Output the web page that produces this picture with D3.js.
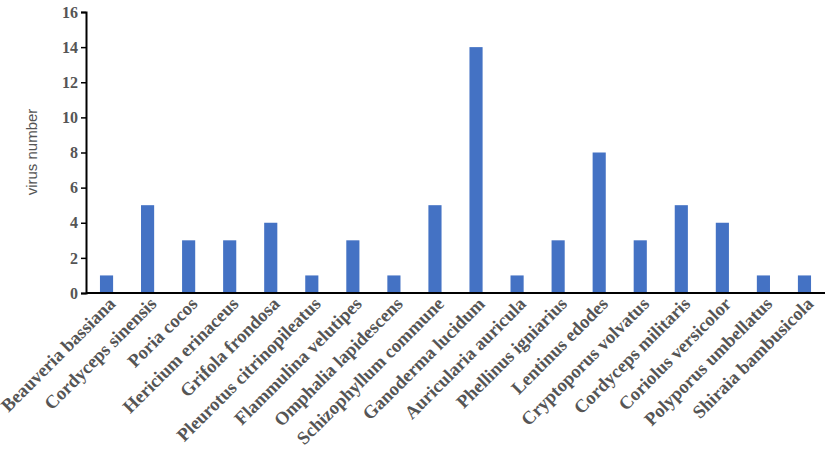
<!DOCTYPE html><html><head><meta charset="utf-8"><script src="https://cdn.jsdelivr.net/npm/d3@7"></script>
<style>body{margin:0;background:#fff}</style></head><body><svg id="c" width="832" height="465"></svg><script>
const categories=["Beauveria bassiana","Cordyceps sinensis","Poria cocos","Hericium erinaceus","Grifola frondosa","Pleurotus citrinopileatus","Flammulina velutipes","Omphalia lapidescens","Schizophyllum commune","Ganoderma lucidum","Auricularia auricula","Phellinus igniarius","Lentinus edodes","Cryptoporus volvatus","Cordyceps militaris","Coriolus versicolor","Polyporus umbellatus","Shiraia bambusicola"];
const values=[1,5,3,3,4,1,3,1,5,14,1,3,8,3,5,4,1,1];
const yTicks=[0,2,4,6,8,10,12,14,16];
const svg=d3.select("#c");
const x=d3.scaleBand().domain(categories).range([86,825]).paddingInner(0.68).paddingOuter(0.34);
const y=d3.scaleLinear().domain([0,16]).range([293,12]);
svg.selectAll("rect").data(values).join("rect").attr("x",(d,i)=>x(categories[i])).attr("width",x.bandwidth())
 .attr("y",d=>y(d)).attr("height",d=>y(0)-y(d)).attr("fill","#4472C4");
const ya=svg.append("g").attr("transform","translate(86,0)").call(d3.axisLeft(y).tickValues(yTicks).tickSize(5));
ya.select(".domain").attr("stroke","#000").attr("stroke-width",2);
ya.selectAll("line").attr("stroke","#000").attr("stroke-width",1.5);
ya.selectAll("text").attr("font-family","Liberation Serif").attr("font-weight","bold").attr("font-size",16).attr("fill","#555");
svg.append("line").attr("x1",86).attr("x2",825).attr("y1",293).attr("y2",293).attr("stroke","#000").attr("stroke-width",2);
svg.append("g").selectAll("text").data(categories).join("text")
 .attr("transform",d=>`translate(${x(d)+x.bandwidth()/2+10},${305}) rotate(-45)`)
 .attr("text-anchor","end").attr("font-family","Liberation Serif").attr("font-weight","bold").attr("font-size",18.5).attr("fill","#555").text(d=>d);
svg.append("text").attr("transform","translate(37,152) rotate(-90)").attr("text-anchor","middle").attr("font-family","Liberation Sans").attr("font-size",15).attr("fill","#555").text("virus number");
</script></body></html>
